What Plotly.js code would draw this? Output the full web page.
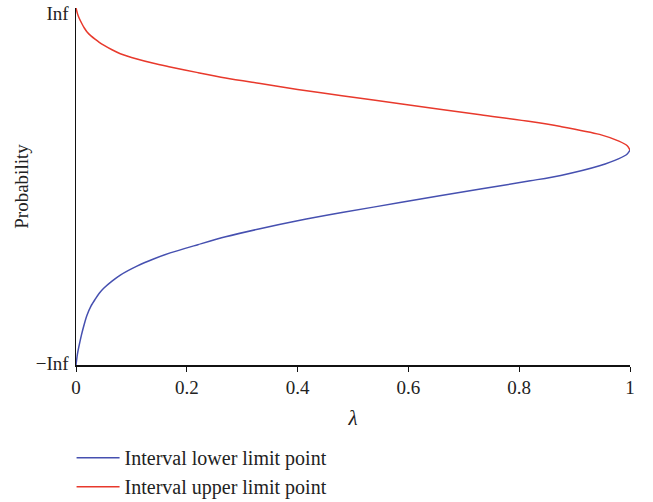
<!DOCTYPE html>
<html>
<head>
<meta charset="utf-8">
<script src="https://cdn.plot.ly/plotly-3.0.1.min.js"></script>
<style>html,body{margin:0;padding:0;background:#fff;}#chart{width:653px;height:502px;}</style>
</head>
<body>
<div id="chart"></div>
<script>
// λ values and normalized probability positions (0 = −Inf, 1 = Inf)
const lambdaUpper = [0, 0.0025, 0.005, 0.01, 0.015, 0.02, 0.027, 0.035, 0.042, 0.05, 0.065, 0.08, 0.11, 0.14, 0.17, 0.22, 0.27, 0.33, 0.4, 0.48, 0.585, 0.73, 0.82, 0.875, 0.945, 0.98, 0.995, 1.0];
const upperLimit  = [1.0, 0.985, 0.974, 0.958, 0.944, 0.933, 0.922, 0.912, 0.904, 0.896, 0.883, 0.872, 0.857, 0.845, 0.835, 0.819, 0.804, 0.789, 0.772, 0.754, 0.732, 0.701, 0.682, 0.668, 0.646, 0.627, 0.614, 0.602];
const lambdaLower = [0, 0.0025, 0.005, 0.01, 0.015, 0.02, 0.027, 0.035, 0.042, 0.05, 0.065, 0.08, 0.11, 0.14, 0.17, 0.22, 0.27, 0.33, 0.4, 0.48, 0.585, 0.73, 0.82, 0.875, 0.945, 0.98, 0.995, 1.0];
const lowerLimit  = [0.0, 0.030, 0.050, 0.085, 0.115, 0.140, 0.165, 0.185, 0.201, 0.215, 0.235, 0.252, 0.277, 0.297, 0.314, 0.337, 0.359, 0.381, 0.404, 0.427, 0.455, 0.493, 0.516, 0.531, 0.558, 0.578, 0.591, 0.602];
const xTickVals = [0, 0.2, 0.4, 0.6, 0.8, 1];
const xTickText = ["0", "0.2", "0.4", "0.6", "0.8", "1"];
const yTickVals = [0.005, 0.985];
const yTickText = ["\u2212Inf", "Inf"];
const seriesNames = ["Interval lower limit point", "Interval upper limit point"];

const font = "Liberation Serif, Times New Roman, serif";
const traces = [
  {x: lambdaLower, y: lowerLimit, mode: "lines", name: seriesNames[0], legendgroup: "a",
   line: {color: "#4650b0", width: 1.5, shape: "spline", smoothing: 0.8}},
  {x: lambdaUpper, y: upperLimit, mode: "lines", name: seriesNames[1], legendgroup: "b",
   line: {color: "#e8392c", width: 1.5, shape: "spline", smoothing: 0.8}}
];
const layout = {
  width: 653, height: 502,
  margin: {l: 76, r: 23, t: 8, b: 137, autoexpand: false},
  paper_bgcolor: "#fff", plot_bgcolor: "#fff",
  font: {family: font, size: 19, color: "#222"},
  showlegend: true,
  legend: {x: -0.008, y: -0.205, xanchor: "left", yanchor: "top", orientation: "v",
           traceorder: "grouped", tracegroupgap: 0, itemwidth: 43,
           font: {family: font, size: 20, color: "#222"},
           bgcolor: "rgba(0,0,0,0)"},
  xaxis: {range: [0, 1], tickvals: xTickVals, ticktext: xTickText, showgrid: false, zeroline: false,
          showline: true, linecolor: "#111", linewidth: 1.5, ticks: "outside", ticklen: 5, tickcolor: "#111",
          tickwidth: 1, ticklabelstandoff: 0, tickfont: {size: 19},
          title: {text: "<i>λ</i>", font: {family: font, size: 21}, standoff: 13}},
  yaxis: {range: [0, 1], tickvals: yTickVals, ticktext: yTickText, showgrid: false, zeroline: false,
          showline: true, linecolor: "#111", linewidth: 1.5, ticks: "", ticklabelstandoff: 2,
          tickfont: {size: 19},
          title: {text: "Probability", font: {family: font, size: 19}, standoff: 2}}
};
Plotly.newPlot("chart", traces, layout, {displayModeBar: false, staticPlot: true});
</script>
</body>
</html>
